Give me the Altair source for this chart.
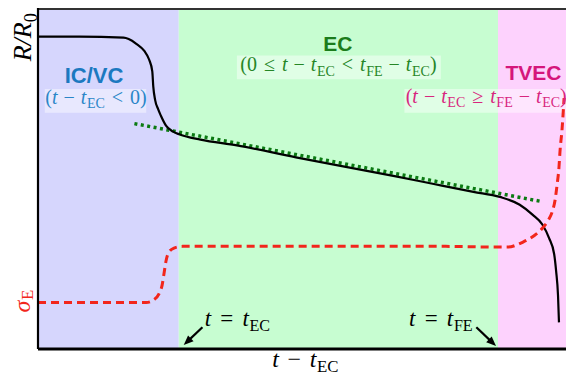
import math
import altair as alt
import pandas as pd

# ---------------- data ----------------
# x: t - t_EC, scaled so that t_FE - t_EC = 1 ; y: schematic 0..1 axis
X_MIN, X_MAX = -0.441, 1.213
region_names = ["IC/VC", "EC", "TVEC"]
region_start = [-0.441, 0.0, 1.0]
region_end = [0.0, 1.0, 1.213]

# R/R0 (black solid curve)
R_t = [-0.441, -0.312, -0.173, -0.157, -0.133, -0.108, -0.093, -0.083, -0.080, -0.074,
       -0.065, -0.056, -0.040, -0.019, 0.003, 0.068, 0.182, 0.367, 0.676, 0.799,
       0.923, 1.006, 1.068, 1.108, 1.139, 1.160, 1.176, 1.182, 1.188, 1.191]
R_val = [0.916, 0.916, 0.913, 0.909, 0.895, 0.874, 0.849, 0.814, 0.771, 0.730,
         0.704, 0.684, 0.655, 0.638, 0.629, 0.614, 0.597, 0.562, 0.507, 0.484,
         0.461, 0.446, 0.423, 0.394, 0.365, 0.325, 0.278, 0.229, 0.157, 0.078]

# linear fit in the EC regime (green dotted)
fit_t = [-0.139, 1.139]
fit_val = [0.661, 0.432]

# sigma_E (red dashed)
sig_t = [-0.441, -0.250, -0.102, -0.077, -0.062, -0.052, -0.046, -0.040, -0.031,
         -0.015, 0.012, 0.367, 0.830, 1.000, 1.031, 1.077, 1.114, 1.139, 1.157,
         1.170, 1.179, 1.185, 1.191, 1.194, 1.201, 1.207]
sig_val = [0.136, 0.136, 0.136, 0.145, 0.162, 0.188, 0.223, 0.258, 0.284,
           0.296, 0.301, 0.301, 0.301, 0.299, 0.299, 0.313, 0.333, 0.354, 0.377,
           0.403, 0.438, 0.481, 0.533, 0.577, 0.649, 0.736]

# ---------------- styles / layout ----------------
W, H = 528, 341
REG_COL = ["#d6d6fd", "#c7fdd1", "#fdd2fd"]
BLUE, BLUE2 = "#1c79c0", "#2a86c8"
GREEN, GREEN2 = "#1b7c1b", "#268626"
MAG, MAG2 = "#d5167b", "#d8267e"
RED = "#f2261c"

kx = W / (X_MAX - X_MIN)
ky = H / 1.0


def ux(px):  # reference pixel -> data x
    return (px - 181) / 324.0


def uy(py):  # reference pixel -> data y
    return (349 - py) / 345.0


RM = {"(": .333, ")": .333, "0": .5, "E": .611, "C": .667, "F": .556, "−": .564,
      "=": .564, "<": .564, "≤": .549, "≥": .549, " ": .25, "/": .278}
IT = {"t": .278, "R": .611, "/": .278, "σ": .52}


def build(segs, cx, by, size, color, angle=0, center=True, sub_shift=0.22):
    widths = []
    for kind, txt in segs:
        if kind == "gap":
            widths.append(txt * size)
        elif kind == "sub":
            widths.append(sum(RM.get(c, .6) for c in txt) * size * 0.7)
        elif kind == "it":
            widths.append(sum(IT.get(c, .5) for c in txt) * size)
        else:
            widths.append(sum(RM.get(c, .5) for c in txt) * size)
    total = sum(widths)
    pos = -total / 2 if center else 0.0
    rows = []
    for (kind, txt), w in zip(segs, widths):
        if kind != "gap":
            fs = size * 0.7 if kind == "sub" else size
            shift = sub_shift * size if kind == "sub" else 0.0
            if angle == 0:
                ox, oy = pos, shift
            else:
                ox, oy = shift, -pos
            rows.append(dict(text=txt, x=ux(cx) + ox / kx, y=uy(by) - oy / ky,
                             size=fs, color=color, italic=(kind == "it"), rot=angle))
        pos += w
    return rows


gB = ("gap", 0.30)
gR = ("gap", 0.35)
gI = ("gap", 0.03)
rows = []
rows += build([("rm", "("), ("it", "t"), gB, ("rm", "−"), gB, ("it", "t"), gI, ("sub", "EC"),
               gR, ("rm", "<"), gR, ("rm", "0"), ("rm", ")")], 97, 101, 20, BLUE2)
rows += build([("rm", "(0"), gR, ("rm", "≤"), gR, ("it", "t"), gB, ("rm", "−"), gB,
               ("it", "t"), gI, ("sub", "EC"), gR, ("rm", "<"), gR, ("it", "t"), gI, ("sub", "FE"),
               gB, ("rm", "−"), gB, ("it", "t"), gI, ("sub", "EC"), ("rm", ")")], 343, 68, 20, GREEN2)
rows += build([("rm", "("), ("it", "t"), gB, ("rm", "−"), gB, ("it", "t"), gI, ("sub", "EC"),
               gR, ("rm", "≥"), gR, ("it", "t"), gI, ("sub", "FE"), gB, ("rm", "−"), gB,
               ("it", "t"), gI, ("sub", "EC"), ("rm", ")")], 493, 100, 20, MAG2)
gE = ("gap", 0.40)
rows += build([("it", "t"), gE, ("rm", "="), gE, ("it", "t"), gI, ("sub", "EC")], 240.5, 326, 23, "black")
rows += build([("it", "t"), gE, ("rm", "="), gE, ("it", "t"), gI, ("sub", "FE")], 447, 326, 23, "black")
gX = ("gap", 0.36)
rows += build([("it", "t"), gX, ("rm", "−"), gX, ("it", "t"), gI, ("sub", "EC")], 309.5, 367, 24, "black")
rows += build([("it", "R/R"), ("sub", "0")], 31.5, 58, 26, "black", angle=270, center=False)
rows += build([("it", "σ"), ("sub", "E")], 30, 312, 24, RED, angle=270, center=False,
              sub_shift=0.13)
txt = pd.DataFrame(rows)

bold_text = ["IC/VC", "EC", "TVEC"]
bold_df = pd.DataFrame({"text": bold_text,
                        "x": [ux(95), ux(342.5), ux(541)],
                        "y": [uy(80), uy(47), uy(77)],
                        "color": [BLUE, GREEN, MAG],
                        "size": [22, 21, 21]})

box_df = pd.DataFrame({"x0": [ux(45), ux(240), ux(410)],
                       "x1": [ux(148), ux(447), ux(574)],
                       "y0": [uy(110), uy(76), uy(110)],
                       "y1": [uy(86), uy(52), uy(86)]})

reg_df = pd.DataFrame({"name": region_names, "x0": region_start, "x1": region_end,
                       "col": REG_COL})
R_df = pd.DataFrame({"t": R_t, "v": R_val, "i": range(len(R_t))})
fit_df = pd.DataFrame({"t": fit_t, "v": fit_val, "i": range(len(fit_t))})
sig_df = pd.DataFrame({"t": sig_t, "v": sig_val, "i": range(len(sig_t))})

# arrows: start -> tip (reference pixels)
arr_start = [(205, 327), (483, 327)]
arr_tip = [(186, 345), (503, 346)]
arr_rows = []
for (sx, sy), (tx, ty) in zip(arr_start, arr_tip):
    dxp = (ux(tx) - ux(sx)) * kx
    dyp = -(uy(ty) - uy(sy)) * ky
    L = math.hypot(dxp, dyp)
    ang = math.degrees(math.atan2(dxp, -dyp)) % 360
    back = 6.0
    arr_rows.append(dict(x=ux(sx), y=uy(sy), x2=ux(tx) - dxp / L * back / kx,
                         y2=uy(ty) + dyp / L * back / ky, tx=ux(tx), ty=uy(ty), ang=ang))
arr_df = pd.DataFrame(arr_rows)

xs = alt.Scale(domain=[X_MIN, X_MAX], nice=False, zero=False)
ys = alt.Scale(domain=[0, 1], nice=False, zero=False)

regions = alt.Chart(reg_df).mark_rect(opacity=1).encode(
    x=alt.X("x0:Q", scale=xs, axis=None), x2="x1:Q",
    y=alt.value(0), y2=alt.value(H),
    color=alt.Color("col:N", scale=None))

boxes = alt.Chart(box_df).mark_rect(color="white", opacity=0.45).encode(
    x=alt.X("x0:Q", scale=xs, axis=None), x2="x1:Q",
    y=alt.Y("y0:Q", scale=ys, axis=None), y2="y1:Q")

fit_line = alt.Chart(fit_df).mark_line(color="#0b7a12", strokeWidth=3.5,
                                       strokeDash=[3, 3.5]).encode(
    x=alt.X("t:Q", scale=xs, axis=None), y=alt.Y("v:Q", scale=ys, axis=None),
    order="i:Q")

R_line = alt.Chart(R_df).mark_line(color="black", strokeWidth=2.2,
                                   interpolate="monotone").encode(
    x=alt.X("t:Q", scale=xs, axis=None), y=alt.Y("v:Q", scale=ys, axis=None),
    order="i:Q")

sig_line = alt.Chart(sig_df).mark_line(color=RED, strokeWidth=3,
                                       strokeDash=[8, 5],
                                       interpolate="monotone").encode(
    x=alt.X("t:Q", scale=xs, axis=None), y=alt.Y("v:Q", scale=ys, axis=None),
    order="i:Q")

frame_left = alt.Chart().mark_rule(color="black", strokeWidth=2.2).encode(
    x=alt.value(0), y=alt.value(0), y2=alt.value(H))
frame_bottom = alt.Chart().mark_rule(color="black", strokeWidth=3).encode(
    y=alt.value(H), x=alt.value(0), x2=alt.value(W))
frame_top = alt.Chart().mark_rule(color="#333333", strokeWidth=2).encode(
    y=alt.value(1), x=alt.value(0), x2=alt.value(W))

arr_lines = alt.Chart(arr_df).mark_rule(color="black", strokeWidth=2.2).encode(
    x=alt.X("x:Q", scale=xs, axis=None), y=alt.Y("y:Q", scale=ys, axis=None),
    x2="x2:Q", y2="y2:Q")
arr_heads = alt.Chart(arr_df).mark_point(
    shape="M0,0L-0.65,1.6L0.65,1.6Z", filled=True, color="black", opacity=1,
    size=150).encode(
    x=alt.X("tx:Q", scale=xs, axis=None), y=alt.Y("ty:Q", scale=ys, axis=None),
    angle=alt.Angle("ang:Q", scale=None))


def text_layer(df, italic, rot):
    sub = df[(df["italic"] == italic) & (df["rot"] == rot)]
    return alt.Chart(sub).mark_text(
        font="Liberation Serif", fontStyle="italic" if italic else "normal",
        align="left", baseline="alphabetic", angle=rot).encode(
        x=alt.X("x:Q", scale=xs, axis=None), y=alt.Y("y:Q", scale=ys, axis=None),
        text="text:N", size=alt.Size("size:Q", scale=None),
        color=alt.Color("color:N", scale=None))


texts = [text_layer(txt, it, r) for it in (True, False) for r in (0, 270)]

bold = alt.Chart(bold_df).mark_text(
    font="Liberation Sans", fontWeight="bold", align="center",
    baseline="alphabetic").encode(
    x=alt.X("x:Q", scale=xs, axis=None), y=alt.Y("y:Q", scale=ys, axis=None),
    text="text:N", size=alt.Size("size:Q", scale=None),
    color=alt.Color("color:N", scale=None))

chart = alt.layer(regions, boxes, fit_line, R_line, sig_line, frame_top, frame_left,
                  frame_bottom, arr_lines, arr_heads, bold, *texts).properties(
    width=W, height=H,
    autosize=alt.AutoSizeParams(type="none"),
    padding={"left": 30, "top": 0, "right": 0, "bottom": 27},
).configure_view(stroke=None)

chart.save("out.html", embed_options={"renderer": "svg", "actions": False})
